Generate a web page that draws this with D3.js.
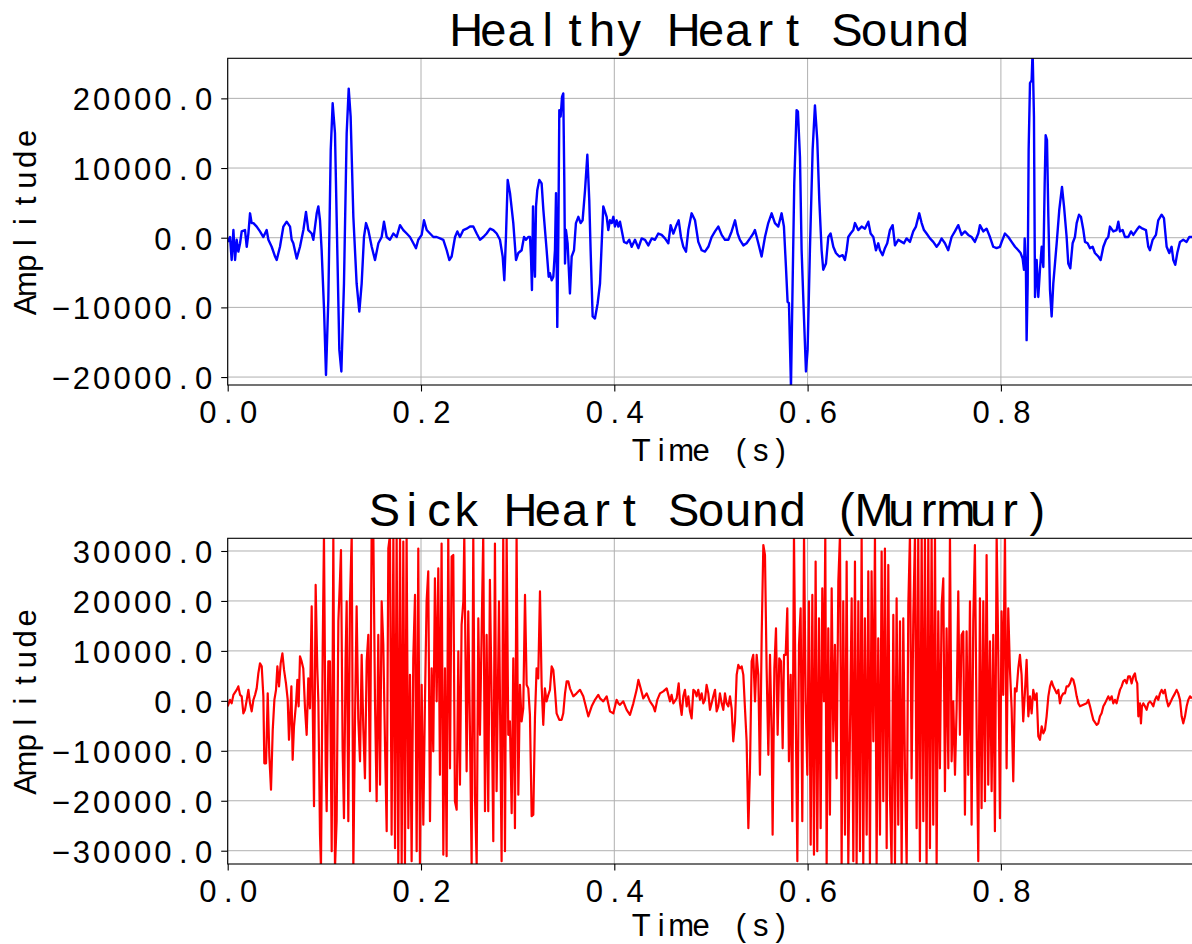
<!DOCTYPE html>
<html>
<head>
<meta charset="utf-8">
<script src="https://cdn.jsdelivr.net/npm/d3@7"></script>
<style>
  html, body { margin: 0; padding: 0; background: #ffffff; }
  svg { display: block; }
  text { font-family: "Liberation Sans", "Noto Sans", sans-serif; fill: #000; }
</style>
</head>
<body>
<script>
// Time axis ticks (seconds)
const timeTicks = [0, 0.2, 0.4, 0.6, 0.8];
// Amplitude ticks per panel
const healthyTicks = [-20000, -10000, 0, 10000, 20000];
const sickTicks = [-30000, -20000, -10000, 0, 10000, 20000, 30000];

// Healthy recording: [time in ms, amplitude]
const healthySamples = [
  [0,-600],[2.4,100],[4.1,-3200],[5.9,1100],[7.6,-3200],[9.3,-300],[11.0,-2000],[12.8,-800],[14.5,900],[17.9,1100],
  [19.7,-1300],[21.4,600],[23.1,3500],[24.8,2100],[26.6,2100],[30.0,1600],[33.4,900],[36.9,100],[40.3,1100],[42.1,-300],
  [45.5,-1300],[49.0,-2700],[50.7,-3200],[54.1,-1300],[57.6,1600],[61.0,2300],[64.5,1600],[66.2,-300],[67.9,-800],[71.4,-3000],
  [74.8,-1300],[78.3,1100],[81.0,3700],[83.4,1100],[86.9,600],[88.6,-300],[92.1,3500],[93.8,4500],[95.5,2500],[97.2,-1800],
  [99.7,-10400],[101.7,-19700],[104.1,-8900],[106.6,12600],[108.6,19300],[111.0,15000],[113.4,-1800],[115.5,-16100],[117.6,-19200],[120.3,-6600],
  [123.1,15000],[125.2,21400],[127.2,17400],[130.0,3000],[133.4,-6600],[136.2,-10600],[138.6,-6600],[141.0,100],[143.1,2100],[145.5,1100],
  [149.0,-1300],[152.4,-3200],[155.9,-800],[159.3,100],[161.7,2300],[164.5,100],[167.9,-300],[171.4,600],[174.8,100],[178.3,1800],
  [181.7,1100],[185.2,600],[188.6,100],[192.1,-800],[194.8,-1500],[197.2,-300],[200.7,400],[203.1,2500],[205.9,1100],[209.3,600],
  [212.8,100],[216.2,100],[219.7,-100],[223.1,-300],[226.6,-1800],[229.3,-3200],[231.7,-2700],[235.2,100],[237.6,900],[240.3,100],
  [243.8,1100],[247.2,1300],[250.7,1600],[254.1,1600],[257.6,600],[261.0,-300],[264.5,100],[267.9,600],[271.4,1300],[274.8,1100],
  [278.3,600],[281.7,-300],[284.5,-2700],[286.2,-6100],[287.9,100],[289.7,8300],[292.1,6400],[295.5,2100],[298.3,-3200],[300.7,-2200],
  [304.1,-1800],[306.6,100],[308.6,-300],[311.0,100],[312.8,100],[313.8,-2700],[314.8,-7500],[315.9,4500],[316.9,-2700],[317.9,-5600],
  [319.0,4500],[320.3,6800],[322.4,8300],[324.8,7800],[326.6,4000],[330.0,-1800],[332.1,-5600],[333.4,-5100],[335.2,-6100],[336.9,-5600],
  [338.6,-1800],[339.7,6400],[341.0,-12800],[342.1,100],[343.1,18300],[344.5,17400],[345.9,20200],[347.2,20700],[348.3,7800],[349.0,-3700],
  [350.0,1100],[351.7,-800],[354.1,-8000],[355.9,-2700],[358.3,-1800],[360.3,2100],[362.8,3000],[365.2,2100],[367.2,2500],[369.7,6800],
  [372.1,11900],[374.1,5400],[375.5,-1800],[377.6,-11300],[380.0,-11600],[382.8,-9400],[385.2,-6600],[388.6,4500],[392.1,3000],[393.8,1100],
  [395.5,2500],[397.3,2100],[399.0,3000],[400.7,1600],[402.4,2500],[404.2,1600],[405.9,2300],[407.6,1100],[410.0,-600],[412.8,-800],
  [415.5,-300],[418.0,-1300],[421.4,-300],[424.9,-1500],[428.3,-100],[431.8,-300],[435.2,-1100],[438.7,-100],[442.1,-300],[445.5,600],
  [449.0,400],[452.4,-100],[455.9,-800],[458.3,1800],[461.1,600],[463.8,1600],[466.6,2500],[469.0,100],[471.4,-1300],[474.2,-2000],
  [476.6,1100],[480.0,3500],[483.5,2500],[486.9,-600],[490.4,-1800],[493.8,-2000],[497.3,-1300],[500.7,100],[504.2,900],[507.6,1600],
  [511.1,400],[514.5,-300],[518.0,-300],[521.4,900],[524.9,2500],[527.6,600],[530.0,-300],[533.5,-1100],[536.9,-800],[540.4,-100],
  [543.8,600],[545.5,1100],[549.0,-800],[552.4,-2700],[555.9,100],[559.3,2100],[562.8,3500],[566.2,2100],[569.7,1600],[573.1,3500],
  [575.5,1600],[577.6,-4200],[579.3,-9200],[580.7,-9400],[582.8,-21400],[584.5,-6600],[586.2,7800],[588.6,18300],[590.0,18100],[592.1,11600],
  [593.8,-1800],[596.2,-11300],[598.3,-19200],[600.0,-16100],[602.4,-1800],[605.2,12600],[607.6,19000],[610.0,14000],[612.1,5400],[614.5,-1800],
  [616.2,-4600],[619.0,-3700],[621.4,100],[623.8,600],[626.6,-1300],[629.3,-2200],[632.8,-2700],[636.2,-2500],[638.6,-3200],[640.4,-1800],
  [642.1,100],[644.5,600],[647.3,1100],[649.0,2100],[652.4,1100],[655.9,1600],[659.3,1300],[662.8,2300],[665.2,600],[668.0,100],
  [670.7,-1800],[673.1,-800],[674.9,-1800],[677.6,-2500],[680.0,-1500],[682.4,-800],[685.2,1100],[688.0,1800],[690.4,-1100],[693.8,-300],
  [697.3,-600],[699.7,-800],[702.4,-100],[705.9,-600],[709.3,900],[712.1,1600],[715.5,3500],[718.0,2100],[720.4,1100],[723.1,600],
  [726.6,-100],[730.0,-600],[733.5,-1300],[736.2,-800],[738.6,-100],[742.1,-800],[745.5,-1800],[749.0,100],[752.4,900],[755.9,1800],
  [759.3,400],[762.8,900],[766.2,400],[769.7,100],[773.1,-600],[776.6,600],[778.3,1800],[781.8,900],[785.2,1300],[788.7,100],
  [792.1,-1300],[795.5,-1500],[799.0,-1300],[800.8,-600],[804.2,600],[807.7,100],[811.1,-600],[814.6,-1300],[818.0,-1800],[820.4,-2200],
  [822.5,-3000],[823.9,-4600],[824.6,-100],[825.9,-4600],[826.6,-14700],[827.7,-6600],[828.7,12600],[830.1,22200],[831.8,22600],[832.8,26900],
  [834.2,17400],[835.3,-8500],[837.0,-3200],[838.7,-8500],[840.4,-4600],[842.2,-1300],[843.9,-4200],[845.3,7800],[846.3,14700],[847.7,14000],
  [849.1,3000],[850.8,-7500],[852.5,-11300],[854.2,-6600],[857.7,-800],[860.4,4000],[863.2,7300],[865.3,4500],[868.0,100],[869.7,-3700],
  [871.8,-4400],[874.2,-800],[876.6,100],[878.4,2100],[880.8,3300],[882.8,3000],[885.3,1100],[887.0,-600],[889.7,-800],[892.2,-1500],
  [894.9,-1300],[897.3,-2200],[900.8,-2700],[903.2,-3200],[906.0,-1300],[908.7,-300],[911.1,100],[912.8,1600],[916.3,900],[919.7,1100],
  [921.5,2300],[923.2,900],[926.0,1100],[928.4,100],[931.8,100],[934.6,900],[937.0,400],[940.4,1100],[943.2,1600],[946.6,1300],
  [950.1,1100],[952.5,-1300],[954.2,-1800],[957.0,-300],[960.4,400],[962.8,2500],[966.3,3300],[968.7,2800],[971.5,-1300],[974.2,-2200],
  [976.6,-1300],[978.4,-3200],[980.4,-3900],[982.5,-2200],[985.3,-600],[988.7,-300],[992.1,-600],[994.9,100],[997.7,100]
];

// Murmur recording: [time in ms, amplitude]
const sickSamples = [
  [0,-1100],[2.4,200],[4.1,-500],[5.9,1200],[9.3,2200],[11.0,2900],[12.8,1200],[14.5,900],[16.2,-2500],[17.9,-1800],
  [19.7,200],[21.4,2200],[23.1,-500],[24.8,-2100],[26.6,200],[28.3,1200],[30.0,2500],[31.7,5500],[33.4,7500],[35.2,6900],
  [36.9,900],[37.9,-12500],[39.7,-12500],[41.4,1500],[43.1,-11100],[44.8,-17800],[46.6,-5800],[48.3,200],[50.0,2200],[51.4,6900],
  [53.1,2900],[54.8,7500],[56.6,9500],[58.3,6200],[60.3,3500],[62.1,200],[63.4,-7800],[64.5,-3800],[65.9,2900],[67.2,-11800],
  [68.6,-5100],[70.7,-500],[72.1,4200],[73.4,-1100],[74.8,8900],[76.5,7900],[78.2,6500],[80.0,-1500],[81.7,-6800],[83.4,4500],
  [85.1,-1500],[86.9,18900],[87.9,-100],[89.3,-21100],[91.0,23200],[92.7,6500],[93.8,-100],[95.5,-26800],[96.5,-33500],[98.3,10500],
  [99.6,33200],[101.4,-12800],[102.4,-22100],[104.1,7900],[105.8,7900],[107.6,-30100],[109.3,33200],[111.0,-33500],[112.7,-24100],[114.5,15900],
  [116.2,24500],[117.2,30200],[118.9,-9500],[120.3,-23500],[122.0,8500],[123.1,19900],[124.8,-24100],[126.5,19900],[128.3,33200],[130.0,-33500],
  [131.7,-4100],[133.4,18900],[135.1,-3500],[136.9,-12100],[138.6,9200],[140.3,-5500],[142.0,-15500],[143.8,7900],[145.5,13200],[147.2,-18100],
  [148.9,33200],[150.7,33200],[152.4,-100],[154.1,-20100],[155.8,13200],[157.6,-16800],[159.3,19900],[161.0,11200],[162.7,-8100],[164.5,-26100],
  [166.2,30500],[167.9,33200],[169.6,-26800],[171.4,33200],[173.1,-29500],[174.8,33200],[176.5,-32800],[178.3,33200],[180.0,-32800],[181.7,31900],
  [183.4,-32800],[185.1,33200],[186.9,-25500],[188.6,5200],[190.3,-32100],[192.0,8500],[193.8,21200],[195.5,-30100],[197.2,30500],[198.9,-32800],
  [200.7,3200],[202.4,-24800],[204.1,-100],[205.8,19900],[207.5,25900],[209.3,-24100],[211.0,6500],[212.7,-10100],[214.4,24500],[216.2,-100],
  [217.9,26500],[219.6,-14800],[221.3,31500],[223.1,-30800],[224.8,6500],[226.5,-31100],[228.2,33200],[230.0,-13500],[231.7,28900],[233.4,29200],
  [235.1,-20100],[236.9,-21800],[238.6,9900],[240.3,-16800],[242.0,15200],[243.8,19900],[244.8,33200],[247.2,-14100],[248.9,17900],[250.7,-6800],
  [252.4,-32800],[254.1,33200],[255.8,-18800],[257.6,-32800],[259.3,16500],[261.0,-6800],[262.7,13200],[264.4,33200],[266.2,-22100],[267.9,13200],
  [269.6,-22100],[271.3,24200],[273.1,-100],[274.8,-28100],[276.5,31500],[278.2,-18100],[280.7,19900],[283.4,-32100],[285.1,33200],[286.9,-30100],
  [288.6,33200],[290.3,-6800],[292.0,-4100],[293.8,-22500],[295.5,8500],[297.2,-25500],[298.9,33200],[300.7,-18800],[302.4,3200],[304.1,-4100],
  [305.8,-1500],[307.6,21200],[309.3,3200],[311.0,2500],[312.7,-2800],[314.5,-23100],[316.2,-22800],[317.9,-3500],[319.6,6500],[321.3,4500],
  [323.1,21900],[324.8,3200],[326.5,-4800],[328.2,2500],[329.9,-100],[331.7,1200],[333.4,2200],[335.2,6900],[336.9,6200],[338.6,2200],
  [340.3,-2500],[343.1,-3800],[345.5,-3800],[347.2,-2500],[349.0,1500],[350.7,3900],[352.4,3900],[354.1,2500],[357.6,900],[361.0,1500],
  [364.5,2200],[367.9,900],[371.4,-1800],[373.1,-3100],[376.6,-1100],[380.0,200],[383.4,1200],[385.2,500],[388.6,-100],[392.1,900],
  [395.5,-2100],[399.0,-2500],[402.4,200],[404.2,-500],[405.9,-800],[409.3,-100],[412.8,-1800],[416.2,-2800],[419.7,-500],[423.1,2200],
  [424.9,4200],[427.3,2500],[430.0,500],[433.5,1500],[436.9,-100],[440.4,-1100],[442.1,-2100],[444.5,200],[447.3,1500],[450.7,1900],
  [454.2,2500],[457.6,-100],[459.3,1200],[461.1,-500],[464.5,500],[466.6,3500],[468.0,-500],[469.7,-2800],[471.4,900],[473.1,2200],
  [474.9,-1100],[476.6,900],[478.3,-2100],[480.0,-3500],[481.8,2200],[483.5,1900],[485.2,900],[486.9,2200],[488.7,200],[490.4,1500],
  [492.1,-500],[493.8,200],[495.5,3200],[497.3,1500],[499.0,-1800],[500.7,-500],[502.4,900],[504.2,2200],[505.9,-2100],[507.6,-1100],
  [509.3,1500],[511.1,-500],[512.8,-1800],[514.5,1500],[516.2,-500],[518.0,-1100],[519.7,900],[521.4,-1500],[523.1,-8100],[524.9,-4100],
  [526.6,5200],[528.3,7200],[530.0,6500],[531.8,6900],[533.5,5200],[535.2,-1500],[536.9,-8100],[538.7,-25500],[540.4,-13500],[542.1,7900],
  [543.8,9200],[545.6,-100],[547.3,9200],[549.0,5200],[550.7,-14800],[552.5,13200],[554.2,31200],[555.9,29200],[557.6,6500],[559.4,-10800],
  [561.1,9200],[562.8,-6800],[563.8,-26800],[565.6,6500],[567.3,14500],[569.0,-6800],[570.7,8500],[572.5,7900],[574.2,-9500],[575.6,9200],
  [577.3,9200],[579.0,18500],[580.7,-12100],[582.5,5200],[584.2,-24100],[585.9,33200],[587.6,-100],[589.4,-32100],[591.1,11200],[592.8,18500],
  [594.5,-24100],[596.3,33200],[598.0,-100],[599.7,-14800],[601.4,19900],[603.2,-28800],[604.9,21200],[606.6,-30800],[608.3,27900],[610.0,-30100],
  [611.8,16500],[613.5,-25500],[615.2,22500],[616.9,-100],[618.3,33200],[619.7,-32800],[621.4,14500],[623.1,-22800],[624.9,22500],[626.6,-8100],
  [628.3,11200],[630.0,-15500],[631.8,23900],[633.5,33200],[635.2,-32800],[636.9,19900],[638.7,-26800],[640.4,27900],[642.1,-32800],[643.8,-6800],
  [645.6,20500],[647.3,-32100],[649.0,27900],[650.7,-32800],[652.5,19900],[654.2,-30100],[655.9,33200],[657.6,-32800],[659.3,16500],[661.1,-26800],
  [662.8,25900],[664.5,-32800],[666.2,25900],[668.0,-8100],[669.7,33200],[671.4,-32800],[673.1,12500],[674.9,-26800],[676.6,29900],[678.3,-20100],
  [680.0,30500],[681.8,-29500],[683.5,27200],[685.2,-18800],[686.9,-32800],[688.7,17200],[690.4,-32800],[692.1,20500],[693.8,-24800],[695.6,15900],
  [697.3,-32800],[699.0,16500],[700.7,-13500],[702.5,-32800],[704.2,19200],[705.9,33200],[707.6,-15500],[709.4,17200],[711.1,33200],[712.8,-25500],
  [714.5,33200],[716.2,-32100],[718.0,33200],[719.7,-24100],[721.4,33200],[723.1,-32800],[724.9,33200],[726.6,-29500],[728.3,33200],[730.0,-24800],
  [731.8,33200],[733.5,-32800],[735.2,17900],[736.9,-13500],[738.7,19200],[740.4,24500],[742.1,-18100],[743.8,14500],[745.6,-13500],[747.3,33200],
  [749.0,-12100],[750.7,-100],[752.5,-14800],[754.2,-1500],[755.9,21900],[757.6,-6800],[759.3,13200],[761.1,13900],[762.8,-22800],[764.5,13900],
  [766.2,-14800],[768.0,19900],[769.7,-24800],[771.4,15900],[773.1,31200],[774.9,-5500],[776.6,-32100],[778.3,20500],[780.0,-21500],[781.8,19900],
  [783.5,-20100],[785.2,29200],[786.9,-16800],[788.7,11900],[790.4,-18100],[792.1,13200],[793.8,-26100],[795.6,33200],[797.3,9200],[799.0,-23500],
  [800.7,17900],[802.4,1200],[804.2,33200],[805.9,-13500],[807.6,18500],[809.3,6500],[811.1,-1500],[812.8,-16100],[814.5,2500],[816.2,1900],
  [818.0,6500],[819.7,9200],[821.4,5200],[823.1,-4100],[824.9,1900],[826.6,8200],[828.4,-3100],[830.1,900],[831.8,-2500],[833.5,2200],
  [835.3,200],[837.0,1500],[838.7,-7100],[840.4,-7800],[842.2,-5100],[843.9,-6500],[845.6,-5800],[847.3,-3100],[849.1,900],[850.8,2900],
  [852.5,3900],[854.2,2900],[856.0,2200],[857.7,1500],[859.4,2200],[861.1,-500],[862.8,900],[864.6,1500],[866.3,1500],[868.0,2900],
  [869.7,2900],[871.5,3500],[873.2,4500],[874.9,4200],[876.6,2900],[878.4,900],[880.1,-500],[881.8,-1100],[885.3,-800],[888.7,-500],
  [890.4,200],[892.2,-1100],[893.9,-2500],[895.6,-3800],[899.1,-4800],[900.8,-4500],[902.5,-3100],[904.2,-2500],[906.0,-1100],[907.7,-500],
  [909.4,200],[911.1,900],[912.8,200],[914.6,900],[916.3,-500],[918.0,200],[919.7,-500],[921.5,900],[923.2,2200],[924.9,2900],
  [926.6,3900],[928.4,4200],[930.1,3500],[931.8,4900],[933.5,4900],[935.3,3500],[937.0,4900],[938.7,5500],[939.7,4200],[941.1,3500],
  [942.2,-3100],[943.2,-1100],[943.9,-500],[944.9,-4500],[945.9,-1100],[947.3,-500],[949.1,-1100],[950.8,-1800],[952.5,-500],[954.2,-100],
  [956.0,-500],[957.7,-1100],[959.4,200],[961.1,900],[962.8,200],[964.6,1500],[966.3,2200],[968.0,1500],[969.7,2200],[971.5,200],
  [973.2,-1100],[974.9,-500],[976.6,200],[978.4,900],[980.1,1500],[981.8,2200],[983.5,1500],[985.3,200],[987.0,-3100],[988.7,-4500],
  [990.5,-3100],[992.2,-1100],[993.9,200],[995.6,900],[997.7,500]
];

const W = 1192, H = 944;
const svg = d3.select("body").append("svg").attr("width", W).attr("height", H);
svg.append("rect").attr("width", W).attr("height", H).attr("fill", "#ffffff");

const plotLeft = 227.7, plotRight = 1194.2;
const cellTick = 20.4;      // character cell of the half-width label font
const tickFont = 31;

// Places every character in its own fixed-width cell, centred on cx.
function cellText(parent, str, cx, baseline, cell, size) {
  const n = str.length;
  const xs = d3.range(n).map(i => (cx + (i - (n - 1) / 2) * cell).toFixed(2));
  return parent.append("text")
    .attr("x", xs.join(" "))
    .attr("y", baseline)
    .attr("text-anchor", "middle")
    .attr("font-size", size)
    .text(str);
}

function drawPanel(cfg) {
  const x = d3.scaleLinear().domain([0, 1]).range([plotLeft, plotRight]);
  const y = d3.scaleLinear().domain(cfg.yDomain).range([cfg.bottom, cfg.top]);
  const g = svg.append("g");

  // grid
  g.append("g").selectAll("line").data(cfg.yTicks).join("line")
    .attr("x1", plotLeft).attr("x2", plotRight)
    .attr("y1", d => y(d)).attr("y2", d => y(d))
    .attr("stroke", "#b0b0b0").attr("stroke-width", 1);
  g.append("g").selectAll("line").data(timeTicks).join("line")
    .attr("x1", d => x(d)).attr("x2", d => x(d))
    .attr("y1", cfg.top).attr("y2", cfg.bottom)
    .attr("stroke", "#b0b0b0").attr("stroke-width", 1);

  // waveform, clipped to the plotting area
  const clipId = "clip-" + cfg.id;
  svg.append("defs").append("clipPath").attr("id", clipId)
    .append("rect").attr("x", plotLeft).attr("y", cfg.top)
    .attr("width", plotRight - plotLeft).attr("height", cfg.bottom - cfg.top);
  const line = d3.line().x(d => x(d[0] / 1000)).y(d => y(d[1]));
  g.append("path").datum(cfg.samples)
    .attr("clip-path", `url(#${clipId})`)
    .attr("fill", "none").attr("stroke", cfg.color)
    .attr("stroke-width", cfg.width).attr("stroke-linejoin", "round")
    .attr("d", line);

  // frame
  g.append("rect").attr("x", plotLeft).attr("y", cfg.top)
    .attr("width", plotRight - plotLeft).attr("height", cfg.bottom - cfg.top)
    .attr("fill", "none").attr("stroke", "#000").attr("stroke-width", 1.1);

  const fmt = d3.format(".1f");

  // left axis
  const ya = g.append("g").attr("transform", `translate(${plotLeft},0)`)
    .call(d3.axisLeft(y).tickValues(cfg.yTicks).tickSize(6.5).tickFormat(fmt));
  ya.select(".domain").remove();
  ya.selectAll(".tick line").attr("stroke", "#000").attr("stroke-width", 1.1);
  ya.selectAll(".tick text").each(function (d) {
    const s = fmt(d), n = s.length;
    const xs = d3.range(n).map(i => (-24 - (n - 1 - i) * cellTick).toFixed(2));
    d3.select(this).attr("x", xs.join(" ")).attr("y", 11.5).attr("dy", null)
      .attr("text-anchor", "middle").attr("font-size", tickFont)
      .attr("font-family", null).attr("fill", "#000");
  });

  // bottom axis
  const xa = g.append("g").attr("transform", `translate(0,${cfg.bottom})`)
    .call(d3.axisBottom(x).tickValues(timeTicks).tickSize(6.5).tickFormat(fmt));
  xa.select(".domain").remove();
  xa.selectAll(".tick line").attr("stroke", "#000").attr("stroke-width", 1.1);
  xa.selectAll(".tick text").each(function (d) {
    const s = fmt(d), n = s.length;
    const xs = d3.range(n).map(i => ((i - (n - 1) / 2) * cellTick).toFixed(2));
    d3.select(this).attr("x", xs.join(" ")).attr("y", 38).attr("dy", null)
      .attr("text-anchor", "middle").attr("font-size", tickFont)
      .attr("font-family", null).attr("fill", "#000");
  });
  ya.attr("font-family", null).attr("font-size", null);
  xa.attr("font-family", null).attr("font-size", null);

  // title and axis labels
  const cx = (plotLeft + plotRight) / 2;
  cellText(svg, cfg.title, cx, cfg.titleBaseline, 27.2, 47);
  cellText(svg, "Time (s)", cx, cfg.xLabelBaseline, 19.9, 31);
  const yl = svg.append("g")
    .attr("transform", `translate(36,${(cfg.top + cfg.bottom) / 2}) rotate(-90)`);
  cellText(yl, "Amplitude", 0, 0, 20.8, 31);
}

drawPanel({
  id: "healthy", samples: healthySamples, color: "#0000ff", width: 2.4,
  top: 58.3, bottom: 385, yDomain: [-21140, 25750], yTicks: healthyTicks,
  title: "Healthy Heart Sound", titleBaseline: 46, xLabelBaseline: 461
});

drawPanel({
  id: "sick", samples: sickSamples, color: "#ff0000", width: 2.2,
  top: 538.3, bottom: 864, yDomain: [-32660, 32540], yTicks: sickTicks,
  title: "Sick Heart Sound (Murmur)", titleBaseline: 526, xLabelBaseline: 936
});
</script>
</body>
</html>
